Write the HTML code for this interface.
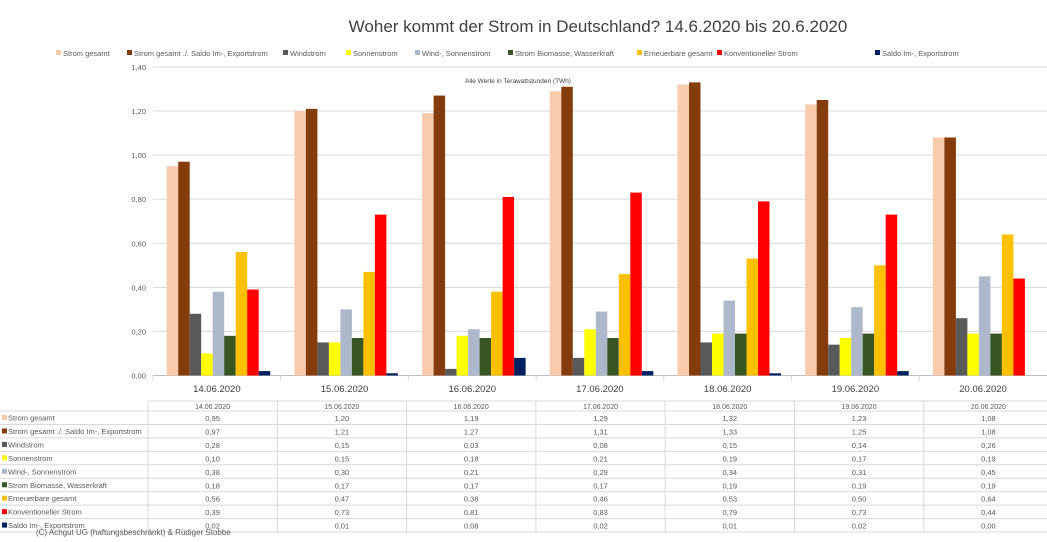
<!DOCTYPE html><html><head><meta charset="utf-8"><style>body{margin:0;background:#fff}svg{display:block;font-family:"Liberation Sans",sans-serif}</style></head><body>
<svg width="1047" height="542" xmlns="http://www.w3.org/2000/svg" id="s">
<text x="598" y="32" font-size="17" fill="#404040" text-anchor="middle">Woher kommt der Strom in Deutschland? 14.6.2020 bis 20.6.2020</text>
<g font-size="7.5" fill="#595959" id="leg"></g>
<text x="465" y="83" font-size="6.5" fill="#404040">Alle Werte in Terawattstunden (TWh)</text>
<g id="grid"></g><g id="bars"></g><g id="tbl" font-size="7.5" fill="#595959"></g>
<text x="36" y="535" font-size="8" fill="#595959">(C) Achgut UG (haftungsbeschränkt) &amp; Rüdiger Stobbe</text>
</svg>
<script>
var ns="http://www.w3.org/2000/svg",s=document.getElementById('s');
function el(p,t,a,tx){var e=document.createElementNS(ns,t);for(var k in a)e.setAttribute(k,a[k]);if(tx!=null)e.textContent=tx;document.getElementById(p).appendChild(e);return e;}
var names=["Strom gesamt","Strom gesamt ./. Saldo Im-, Exportstrom","Windstrom","Sonnenstrom","Wind-, Sonnenstrom","Strom Biomasse, Wasserkraft","Erneuerbare gesamt","Konventioneller Strom","Saldo Im-, Exportstrom"];
var cols=["#F8CBAD","#843C0C","#595959","#FFFF00","#ADB9CA","#375623","#FFC000","#FF0000","#002060"];
var lx=[56,127,283,346,415,508,637,717,875];
var dates=["14.06.2020","15.06.2020","16.06.2020","17.06.2020","18.06.2020","19.06.2020","20.06.2020"];
var d=[[0.95,1.20,1.19,1.29,1.32,1.23,1.08],[0.97,1.21,1.27,1.31,1.33,1.25,1.08],[0.28,0.15,0.03,0.08,0.15,0.14,0.26],[0.10,0.15,0.18,0.21,0.19,0.17,0.19],[0.38,0.30,0.21,0.29,0.34,0.31,0.45],[0.18,0.17,0.17,0.17,0.19,0.19,0.19],[0.56,0.47,0.38,0.46,0.53,0.50,0.64],[0.39,0.73,0.81,0.83,0.79,0.73,0.44],[0.02,0.01,0.08,0.02,0.01,0.02,0.00]];
for(var i=0;i<9;i++){el('leg','rect',{x:lx[i],y:50,width:5,height:5,fill:cols[i]});el('leg','text',{x:lx[i]+7,y:56},names[i]);}
var y0=375.5,k=220.4;
for(var j=0;j<=7;j++){var y=y0-j*0.2*k;el('grid','line',{x1:153,x2:1047,y1:y,y2:y,stroke:j?"#d9d9d9":"#bfbfbf","stroke-width":1});el('grid','text',{x:146,y:y+3,"font-size":"7.5",fill:"#595959","text-anchor":"end"},(j*0.2).toFixed(2).replace('.',','));}
var gw=127.7;
for(var g=0;g<7;g++){var gx=153+g*gw;el('grid','line',{x1:gx,x2:gx,y1:375,y2:381,stroke:"#d9d9d9"});
el('grid','text',{x:gx+gw/2,y:392,"font-size":"9.5",fill:"#404040","text-anchor":"middle"},dates[g]);
for(var i=0;i<9;i++){var h=d[i][g]*k;el('bars','rect',{x:gx+13.7+i*11.5,y:y0-h,width:11.5,height:h,fill:cols[i]});}}
// table
var rt=[401,411];for(var r=1;r<=9;r++)rt.push(411+r*13.45);
for(var r=0;r<rt.length;r++){el('tbl','line',{x1:r==0?148:0,x2:1047,y1:rt[r],y2:rt[r],stroke:"#d9d9d9"});}
for(var c=0;c<=7;c++){var x=148+c*129.3;el('tbl','line',{x1:x,x2:x,y1:401,y2:532,stroke:"#d9d9d9"});}
for(var c=0;c<7;c++){var cx=148+c*129.3+64.6;el('tbl','text',{x:cx,y:409,"text-anchor":"middle","font-size":"7"},dates[c]);
for(var i=0;i<9;i++)el('tbl','text',{x:cx,y:411+i*13.45+10,"text-anchor":"middle"},d[i][c].toFixed(2).replace('.',','));}
for(var i=0;i<9;i++){var yy=411+i*13.45;el('tbl','rect',{x:2,y:yy+4,width:5,height:5,fill:cols[i]});el('tbl','text',{x:8,y:yy+9.5},names[i]);}
</script></body></html>
